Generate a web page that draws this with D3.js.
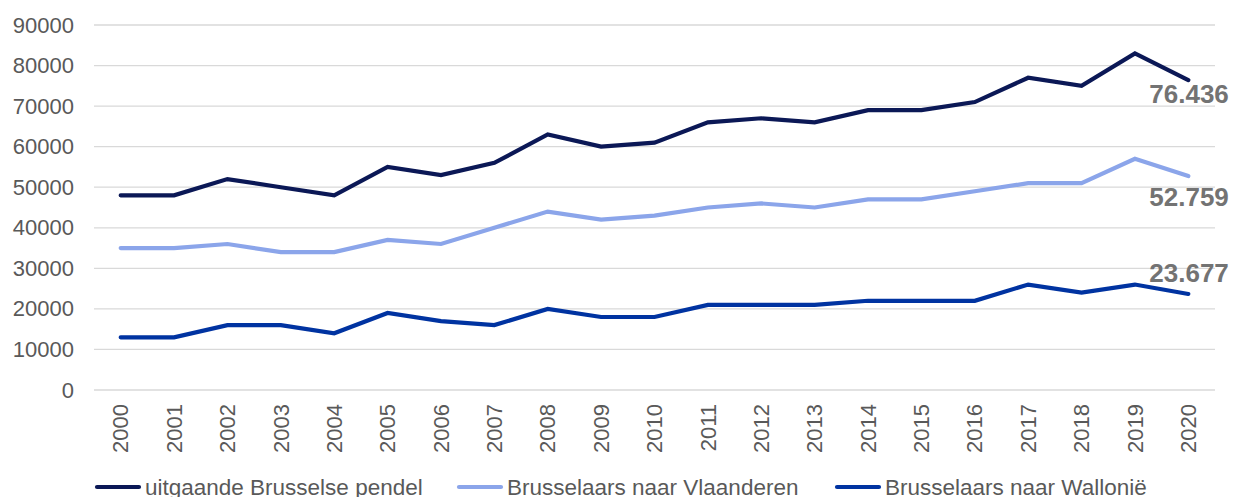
<!DOCTYPE html>
<html>
<head>
<meta charset="utf-8">
<script src="https://cdn.jsdelivr.net/npm/d3@7"></script>
<style>
  body { margin: 0; background: #fff; }
  text { font-family: "Liberation Sans", Arial, sans-serif; }
</style>
</head>
<body>
<div id="chart-area"></div>
<script>
// data
var years = ["2000","2001","2002","2003","2004","2005","2006","2007","2008","2009","2010",
	"2011","2012","2013","2014","2015","2016","2017","2018","2019","2020"];

var pendel = [48000,48000,52000,50000,48000,55000,53000,56000,63000,60000,61000,
	66000,67000,66000,69000,69000,71000,77000,75000,83000,76436];
var vlaanderen = [35000,35000,36000,34000,34000,37000,36000,40000,44000,42000,43000,
	45000,46000,45000,47000,47000,49000,51000,51000,57000,52759];
var wallonie = [13000,13000,16000,16000,14000,19000,17000,16000,20000,18000,18000,
	21000,21000,21000,22000,22000,22000,26000,24000,26000,23677];

var yTicks = [0,10000,20000,30000,40000,50000,60000,70000,80000,90000];

var seriesNames = ["uitgaande Brusselse pendel", "Brusselaars naar Vlaanderen", "Brusselaars naar Wallonië"];
var seriesColors = ["#0b1856", "#8ba5ea", "#0033a1"];
var endLabels = ["76.436", "52.759", "23.677"];

var margin = {left:94, right:18, top:25, bottom:107};
var width = 1233 - margin.left - margin.right,
	height = 497 - margin.top - margin.bottom;

var svg = d3.select("#chart-area")
	.append("svg")
		.attr("width", 1233)
		.attr("height", 497);

var canvas = svg.append("g")
	.attr("transform", "translate(" + margin.left + ", " + margin.top + ")");

// scales
var x = d3.scaleBand()
	.domain(years)
	.range([0, width]);

var y = d3.scaleLinear()
	.domain([0, 90000])
	.range([height, 0]);

// gridlines
canvas.append("g")
	.selectAll("line")
	.data(yTicks)
	.enter().append("line")
		.attr("x1", 0)
		.attr("x2", width)
		.attr("y1", function(d){ return y(d); })
		.attr("y2", function(d){ return y(d); })
		.attr("stroke", "#d9d9d9")
		.attr("stroke-width", 1.3);

// y axis
var yAxisCall = d3.axisLeft(y)
	.tickValues(yTicks)
	.tickSize(0)
	.tickPadding(20)
	.tickFormat(function(d){ return d; });

var yAxis = canvas.append("g").call(yAxisCall);
yAxis.select(".domain").remove();
yAxis.selectAll("text")
	.attr("font-size", 22)
	.attr("fill", "#595959")
	.style("font-family", "Liberation Sans, Arial, sans-serif");

// x axis
var xAxisCall = d3.axisBottom(x).tickSize(0);
var xAxis = canvas.append("g")
	.attr("transform", "translate(0, " + height + ")")
	.call(xAxisCall);
xAxis.select(".domain").remove();
xAxis.selectAll("text")
	.attr("font-size", 22)
	.attr("fill", "#595959")
	.style("font-family", "Liberation Sans, Arial, sans-serif")
	.attr("text-anchor", "end")
	.attr("dy", "0.35em")
	.attr("transform", "translate(0, 14) rotate(-90)")
	.attr("x", 0)
	.attr("y", 0);

// lines
var allSeries = [pendel, vlaanderen, wallonie];
var line = d3.line()
	.x(function(d, i){ return x(years[i]) + x.bandwidth() / 2; })
	.y(function(d){ return y(d); });

allSeries.forEach(function(s, k){
	canvas.append("path")
		.datum(s)
		.attr("fill", "none")
		.attr("stroke", seriesColors[k])
		.attr("stroke-width", 4.2)
		.attr("stroke-linecap", "round")
		.attr("stroke-linejoin", "miter")
		.attr("d", line);
});

// end labels
var lastX = x(years[years.length - 1]) + x.bandwidth() / 2;
var labelDy = [23, 30, -12];
allSeries.forEach(function(s, k){
	canvas.append("text")
		.attr("x", lastX - 39)
		.attr("y", y(s[s.length - 1]) + labelDy[k])
		.attr("font-size", 26)
		.attr("font-weight", "bold")
		.attr("fill", "#737373")
		.text(endLabels[k]);
});

// legend
var legendX = [95, 457, 835];
seriesNames.forEach(function(name, k){
	var row = svg.append("g")
		.attr("transform", "translate(" + legendX[k] + ", 487)");
	row.append("line")
		.attr("x1", 2)
		.attr("x2", 44)
		.attr("y1", 0)
		.attr("y2", 0)
		.attr("stroke", seriesColors[k])
		.attr("stroke-width", 4.2)
		.attr("stroke-linecap", "round");
	row.append("text")
		.attr("x", 50)
		.attr("y", 8)
		.attr("font-size", 22.5)
		.attr("fill", "#595959")
		.text(name);
});
</script>
</body>
</html>
